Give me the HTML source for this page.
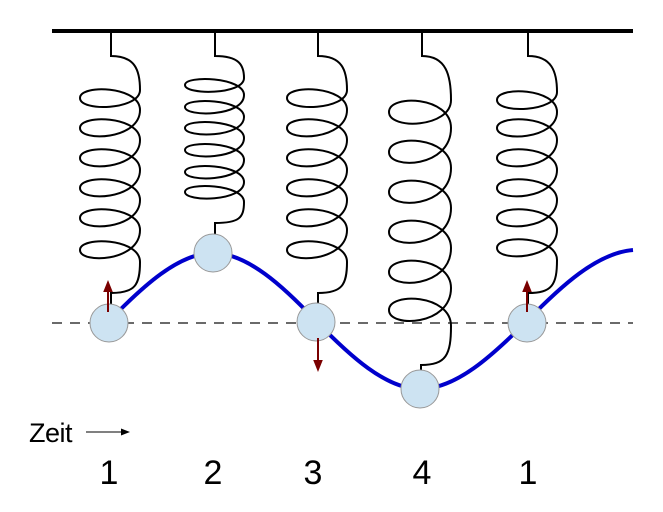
<!DOCTYPE html>
<html><head><meta charset="utf-8"><style>html,body{margin:0;padding:0;background:#fff}svg{display:block}</style></head>
<body>
<svg width="663" height="512" viewBox="0 0 663 512" xmlns="http://www.w3.org/2000/svg">
<defs>
<marker id="ah" viewBox="0 0 10 10" refX="5" refY="5" markerWidth="6" markerHeight="6" orient="auto"><path d="M0,1 L10,5 L0,9 z" fill="#7a0000"/></marker>
</defs>
<line x1="52" y1="31" x2="633" y2="31" stroke="#000" stroke-width="4"/>
<line x1="52" y1="323" x2="633" y2="323" stroke="#111" stroke-width="1.2" stroke-dasharray="10,8"/>
<path d="M109,321 C143,286 179,253 213,253 C247,253 283,286 316,321 C350,356 386,389 420,389 C456,389 492,356 527,321 C561,286 597,253 633,250" fill="none" stroke="#0000cc" stroke-width="4"/>
<g fill="none" stroke="#000" stroke-width="2">
<!-- spring 1: cx 110, loops 98..250 step ~30 -->
<path d="M111,31 V56 C135,56 140,70 140,90
 C140,110 80,112 80,98 C80,84 140,86 140,110
 C140,140 80,142 80,128 C80,114 140,116 140,140
 C140,170 80,172 80,158 C80,144 140,146 140,170
 C140,200 80,202 80,188 C80,174 140,176 140,200
 C140,230 80,232 80,218 C80,204 140,206 140,230
 C140,262 80,264 80,250 C80,236 140,238 140,262
 C140,285 135,293 111,293 V305"/>
<!-- spring 2 -->
<path d="M215,31 V56 C239,56 244,65 244,78
 C244,95 185,95 185,85 C185,75 244,77 244,95
 C244,117 185,117 185,107 C185,97 244,99 244,117
 C244,138 185,138 185,128 C185,118 244,120 244,138
 C244,160 185,160 185,150 C185,140 244,142 244,160
 C244,182 185,182 185,172 C185,162 244,164 244,182
 C244,202 185,202 185,192 C185,182 244,184 244,202
 C244,218 239,223 215,223 V235"/>
<!-- spring 3 -->
<path d="M318,31 V56 C342,56 347,70 347,90
 C347,110 287,112 287,98 C287,84 347,86 347,110
 C347,140 287,142 287,128 C287,114 347,116 347,140
 C347,170 287,172 287,158 C287,144 347,146 347,170
 C347,200 287,202 287,188 C287,174 347,176 347,200
 C347,230 287,232 287,218 C287,204 347,206 347,230
 C347,262 287,264 287,250 C287,236 347,238 347,262
 C347,285 342,293 318,293 V304"/>
<!-- spring 4 -->
<path d="M422,31 V56 C446,56 451,75 451,100
 C451,128 389,130 389,112 C389,94 451,96 451,128
 C451,168 389,170 389,152 C389,134 451,136 451,168
 C451,208 389,210 389,192 C389,174 451,176 451,208
 C451,248 389,250 389,232 C389,214 451,216 451,248
 C451,288 389,290 389,272 C389,254 451,256 451,288
 C451,326 389,328 389,310 C389,292 451,294 451,326
 C451,355 446,365 421,365 V372"/>
<!-- spring 5 -->
<path d="M528,31 V56 C552,56 557,72 557,92
 C557,112 497,114 497,100 C497,86 557,88 557,112
 C557,140 497,142 497,128 C497,114 557,116 557,140
 C557,170 497,172 497,158 C497,144 557,146 557,170
 C557,200 497,202 497,188 C497,174 557,176 557,200
 C557,230 497,232 497,218 C497,204 557,206 557,230
 C557,260 497,262 497,248 C497,234 557,236 557,260
 C557,285 552,293 528,293 V305"/>
</g>
<g fill="#cde3f2" stroke="#999" stroke-width="1">
<circle cx="109" cy="323" r="19"/><circle cx="213" cy="253" r="19"/><circle cx="316" cy="322" r="19"/><circle cx="420" cy="389" r="19"/><circle cx="527" cy="323" r="19"/>
</g>
<g stroke="#7a0000" stroke-width="2" marker-end="url(#ah)">
<line x1="108" y1="312" x2="108" y2="286"/>
<line x1="318" y1="338" x2="318" y2="366"/>
<line x1="527" y1="312" x2="527" y2="286"/>
</g>
<line x1="86" y1="432" x2="122" y2="432" stroke="#000" stroke-width="1"/>
<path d="M121,428.5 L130,432 L121,435.5 z" fill="#000"/>
<g font-family="Liberation Sans, DejaVu Sans, sans-serif" fill="#000">
<text x="29" y="442" font-size="27" letter-spacing="-0.5">Zeit</text>
<g font-size="34" text-anchor="middle">
<text x="109" y="484">1</text><text x="213" y="484">2</text><text x="313" y="484">3</text><text x="422" y="484">4</text><text x="528" y="484">1</text>
</g>
</g>
</svg>
</body></html>
